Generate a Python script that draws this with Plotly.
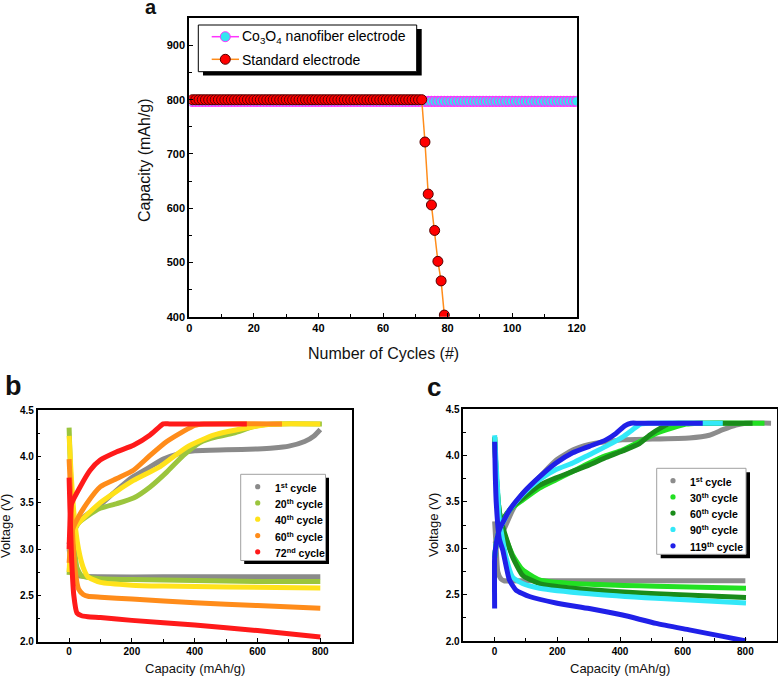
import plotly.graph_objects as go

W, H = 778, 677
FONT = "Arial, Liberation Sans, sans-serif"

# ---------------- Panel a data ----------------
a_names = ["Co<sub>3</sub>O<sub>4</sub> nanofiber electrode", "Standard electrode"]
cycles_co = list(range(1, 121))
capacity_co = [
    797, 797, 797, 797, 797, 797, 797, 797, 797, 797, 797, 797, 797, 797, 797, 797, 797, 797, 797, 797,
    797, 797, 797, 797, 797, 797, 797, 797, 797, 797, 797, 797, 797, 797, 797, 797, 797, 797, 797, 797,
    797, 797, 797, 797, 797, 797, 797, 797, 797, 797, 797, 797, 797, 797, 797, 797, 797, 797, 797, 797,
    797, 797, 797, 797, 797, 797, 797, 797, 797, 797, 797, 797, 797, 797, 797, 797, 797, 797, 797, 797,
    797, 797, 797, 797, 797, 797, 797, 797, 797, 797, 797, 797, 797, 797, 797, 797, 797, 797, 797, 797,
    797, 797, 797, 797, 797, 797, 797, 797, 797, 797, 797, 797, 797, 797, 797, 797, 797, 797, 797, 797,
]
cycles_std = list(range(1, 80))
capacity_std = [
    800, 800, 800, 800, 800, 800, 800, 800, 800, 800, 800, 800, 800, 800, 800, 800, 800, 800, 800, 800,
    800, 800, 800, 800, 800, 800, 800, 800, 800, 800, 800, 800, 800, 800, 800, 800, 800, 800, 800, 800,
    800, 800, 800, 800, 800, 800, 800, 800, 800, 800, 800, 800, 800, 800, 800, 800, 800, 800, 800, 800,
    800, 800, 800, 800, 800, 800, 800, 800, 800, 800, 800, 800,
    722, 626, 606, 559, 502, 466, 403,
]

# ---------------- Panel b data ----------------
b_labels = ["1<sup>st</sup> cycle", "20<sup>th</sup> cycle", "40<sup>th</sup> cycle",
            "60<sup>th</sup> cycle", "72<sup>nd</sup> cycle"]
b_colors = ["#8a8a8a", "#9bc53d", "#ffe21a", "#ff8c1a", "#ff1a1a"]
b_charge_x = [
    [0, 10, 30, 60, 100, 150, 200, 250, 300, 350, 400, 500, 600, 650, 700, 750, 780, 800],
    [0, 3, 10, 30, 60, 99, 152, 205, 258, 311, 364, 417, 470, 524, 587, 630, 660, 805],
    [0, 3, 10, 30, 60, 99, 150, 205, 290, 375, 460, 587, 640, 670, 800],
    [0, 5, 12, 24, 56, 99, 152, 205, 258, 311, 364, 400, 430, 678],
    [0, 3, 8, 35, 67, 99, 152, 205, 258, 285, 300, 320, 566],
]
b_charge_y = [
    [3.05, 3.22, 3.30, 3.38, 3.48, 3.63, 3.77, 3.87, 3.97, 4.03, 4.06, 4.07, 4.08, 4.09, 4.11, 4.16, 4.22, 4.29],
    [2.72, 2.90, 3.15, 3.28, 3.36, 3.44, 3.49, 3.55, 3.67, 3.83, 4.01, 4.15, 4.21, 4.25, 4.32, 4.345, 4.35, 4.35],
    [2.75, 2.95, 3.18, 3.28, 3.38, 3.50, 3.62, 3.74, 3.89, 4.10, 4.23, 4.32, 4.345, 4.35, 4.35],
    [2.85, 3.05, 3.22, 3.31, 3.49, 3.67, 3.76, 3.85, 4.01, 4.16, 4.27, 4.335, 4.35, 4.35],
    [3.00, 3.30, 3.49, 3.67, 3.85, 3.96, 4.05, 4.12, 4.23, 4.31, 4.35, 4.35, 4.35],
]
b_dis_x = [
    [0, 5, 15, 30, 100, 300, 500, 800],
    [0, 3, 8, 15, 25, 40, 100, 200, 400, 600, 800],
    [0, 5, 15, 30, 45, 60, 100, 200, 300, 500, 800],
    [0, 5, 12, 20, 30, 45, 60, 100, 200, 400, 600, 800],
    [0, 3, 8, 15, 25, 40, 60, 100, 200, 400, 600, 800],
]
b_dis_y = [
    [3.00, 2.88, 2.74, 2.71, 2.70, 2.70, 2.70, 2.70],
    [4.31, 4.00, 3.50, 3.10, 2.80, 2.71, 2.68, 2.67, 2.66, 2.65, 2.65],
    [4.22, 3.90, 3.40, 3.00, 2.80, 2.70, 2.64, 2.61, 2.60, 2.59, 2.58],
    [3.97, 3.60, 3.10, 2.75, 2.57, 2.51, 2.49, 2.48, 2.46, 2.42, 2.39, 2.36],
    [3.77, 3.40, 2.90, 2.50, 2.31, 2.28, 2.27, 2.26, 2.23, 2.18, 2.12, 2.05],
]

# ---------------- Panel c data ----------------
c_labels = ["1<sup>st</sup> cycle", "30<sup>th</sup> cycle", "60<sup>th</sup> cycle",
            "90<sup>th</sup> cycle", "119<sup>th</sup> cycle"]
c_colors = ["#8c8c8c", "#22e022", "#1a8c1a", "#33e8f8", "#2020e8"]
c_charge_x = [
    [0, 10, 26, 57, 89, 143, 196, 249, 302, 355, 408, 621, 685, 728, 770, 800, 882],
    [0, 5, 15, 30, 57, 89, 143, 196, 249, 302, 355, 408, 462, 515, 568, 610, 650, 861],
    [0, 5, 15, 30, 57, 89, 143, 196, 249, 302, 355, 408, 462, 494, 536, 560, 590, 823],
    [0, 5, 15, 30, 47, 89, 143, 196, 249, 302, 355, 408, 440, 465, 490, 728],
    [0, 0, 5, 15, 47, 89, 143, 196, 249, 302, 355, 387, 415, 435, 460, 664],
]
c_charge_y = [
    [3.05, 3.10, 3.18, 3.41, 3.59, 3.77, 3.95, 4.06, 4.12, 4.15, 4.17, 4.19, 4.22, 4.28, 4.33, 4.35, 4.35],
    [2.90, 3.05, 3.20, 3.33, 3.44, 3.52, 3.65, 3.74, 3.83, 3.92, 4.00, 4.06, 4.15, 4.24, 4.30, 4.34, 4.35, 4.35],
    [2.90, 3.05, 3.20, 3.33, 3.45, 3.54, 3.68, 3.76, 3.83, 3.90, 3.98, 4.05, 4.13, 4.22, 4.31, 4.345, 4.35, 4.35],
    [2.90, 3.05, 3.20, 3.30, 3.41, 3.58, 3.74, 3.85, 3.92, 4.01, 4.10, 4.20, 4.28, 4.34, 4.35, 4.35],
    [2.35, 2.90, 3.05, 3.20, 3.41, 3.59, 3.77, 3.92, 4.03, 4.10, 4.17, 4.24, 4.32, 4.35, 4.35, 4.35],
]
c_dis_x = [
    [0, 5, 10, 20, 30, 100, 400, 800],
    [0, 5, 15, 26, 57, 89, 143, 249, 515, 802],
    [0, 5, 15, 26, 57, 89, 143, 249, 515, 802],
    [0, 5, 10, 15, 36, 57, 89, 143, 302, 515, 802],
    [0, 2, 5, 15, 26, 47, 68, 111, 196, 302, 408, 515, 621, 728, 802],
]
c_dis_y = [
    [3.29, 3.00, 2.75, 2.67, 2.65, 2.65, 2.65, 2.65],
    [4.20, 3.80, 3.40, 3.20, 2.93, 2.77, 2.66, 2.62, 2.59, 2.57],
    [4.20, 3.80, 3.40, 3.23, 2.91, 2.71, 2.62, 2.57, 2.51, 2.47],
    [4.22, 3.90, 3.60, 3.31, 2.91, 2.69, 2.62, 2.57, 2.51, 2.46, 2.41],
    [4.15, 3.80, 3.50, 3.10, 2.98, 2.66, 2.55, 2.48, 2.41, 2.35, 2.28, 2.19, 2.12, 2.05, 2.00],
]


# ---------------- helpers (pixel -> paper) ----------------
def px(x):
    return x / W


def py(y):
    return 1 - y / H


fig = go.Figure()

# Panel a traces
co_style = dict(line=dict(color="#ff33ff", width=1.5),
                marker=dict(size=10, color="#33e6f0", line=dict(color="#ff33ff", width=1.2)))
std_style = dict(line=dict(color="#ff8c1a", width=1.5),
                 marker=dict(size=10, color="#ff0000", line=dict(color="#550000", width=1)))
fig.add_trace(go.Scatter(x=cycles_co, y=capacity_co, mode="lines+markers", name=a_names[0],
                         xaxis="x", yaxis="y", **co_style))
fig.add_trace(go.Scatter(x=cycles_std, y=capacity_std, mode="lines+markers", name=a_names[1],
                         xaxis="x", yaxis="y", **std_style))


def add_cycle_panel(colors, cx, cy, dx, dy, xa, ya):
    for i in range(len(colors)):
        xs = list(dx[i]) + [None] + list(cx[i])
        ys = list(dy[i]) + [None] + list(cy[i])
        fig.add_trace(go.Scatter(
            x=xs, y=ys, mode="lines", showlegend=False,
            line=dict(color=colors[i], width=5, shape="spline", smoothing=0.5),
            xaxis=xa, yaxis=ya, hoverinfo="skip",
        ))


add_cycle_panel(b_colors, b_charge_x, b_charge_y, b_dis_x, b_dis_y, "x2", "y2")
add_cycle_panel(c_colors, c_charge_x, c_charge_y, c_dis_x, c_dis_y, "x3", "y3")

axis_common = dict(
    showline=True, linecolor="black", mirror=True, showgrid=False, zeroline=False,
    ticks="inside", tickcolor="black", ticklen=4, tickwidth=1.2,
)
tf_a = dict(family=FONT, size=11, color="black", weight="bold")
tf_bc = dict(family=FONT, size=10, color="black", weight="bold")
minor_style = dict(ticks="inside", ticklen=3, tickcolor="black")

fig.update_layout(
    width=W, height=H,
    margin=dict(l=0, r=0, t=0, b=0, autoexpand=False),
    paper_bgcolor="white", plot_bgcolor="white",
    showlegend=False,
    xaxis=dict(domain=[px(189.3), px(576.7)], range=[0, 120], anchor="y",
               tickvals=[0, 20, 40, 60, 80, 100, 120],
               minor=dict(tickvals=[10, 30, 50, 70, 90, 110], **minor_style),
               linewidth=2, tickfont=tf_a, **axis_common),
    yaxis=dict(domain=[py(316.7), py(18.3)], range=[400, 950], anchor="x",
               tickvals=[400, 500, 600, 700, 800, 900],
               minor=dict(tickvals=[450, 550, 650, 750, 850], **minor_style),
               linewidth=2, tickfont=tf_a, **axis_common),
    xaxis2=dict(domain=[px(37.7), px(351.7)], range=[-100, 900], anchor="y2",
                tickvals=[0, 200, 400, 600, 800],
                minor=dict(tickvals=[100, 300, 500, 700], **minor_style),
                linewidth=1.5, tickfont=tf_bc, **axis_common),
    yaxis2=dict(domain=[py(641.7), py(410)], range=[2.0, 4.5], anchor="x2",
                tickvals=[2.0, 2.5, 3.0, 3.5, 4.0, 4.5], tickformat=".1f",
                minor=dict(tickvals=[2.25, 2.75, 3.25, 3.75, 4.25], **minor_style),
                linewidth=1.5, tickfont=tf_bc, **axis_common),
    xaxis3=dict(domain=[px(463.3), px(776.7)], range=[-100, 900], anchor="y3",
                tickvals=[0, 200, 400, 600, 800],
                minor=dict(tickvals=[100, 300, 500, 700], **minor_style),
                linewidth=1.5, tickfont=tf_bc, **axis_common),
    yaxis3=dict(domain=[py(641), py(409.3)], range=[2.0, 4.5], anchor="x3",
                tickvals=[2.0, 2.5, 3.0, 3.5, 4.0, 4.5], tickformat=".1f",
                minor=dict(tickvals=[2.25, 2.75, 3.25, 3.75, 4.25], **minor_style),
                linewidth=1.5, tickfont=tf_bc, **axis_common),
)


def rect(x0, y0, x1, y1, fill, line):
    fig.add_shape(type="rect", xref="paper", yref="paper",
                  x0=px(x0), x1=px(x1), y0=py(y0), y1=py(y1),
                  fillcolor=fill, line=line, layer="above")


def dot(cx, cy, r, fill, line):
    fig.add_shape(type="circle", xref="paper", yref="paper",
                  x0=px(cx - r), x1=px(cx + r), y0=py(cy - r), y1=py(cy + r),
                  fillcolor=fill, line=line, layer="above")


def label(text, x, y, size, bold):
    font = dict(family=FONT, size=size, color="black")
    if bold:
        font["weight"] = "bold"
    fig.add_annotation(text=text, x=px(x), y=py(y), xref="paper", yref="paper",
                       showarrow=False, xanchor="left", yanchor="middle", font=font)


# Panel a key (box with drop shadow, line+marker symbols)
rect(203, 29, 421.7, 75.5, "black", dict(width=0))
rect(198.3, 25, 416.7, 71.7, "white", dict(color="black", width=1))
for yy, name, st in zip([36.7, 59.3], a_names, [co_style, std_style]):
    fig.add_shape(type="line", xref="paper", yref="paper",
                  x0=px(211.7), x1=px(239), y0=py(yy), y1=py(yy),
                  line=dict(color=st["line"]["color"], width=1.5), layer="above")
    dot(225.3, yy, 5, st["marker"]["color"],
        dict(color=st["marker"]["line"]["color"], width=1))
    label(name, 240, yy + 0.5, 14, False)


# Panels b and c keys
def add_key(box, shadow, dot_x, text_x, item_ys, labels, colors):
    x0, y0, x1, y1 = box
    rect(x0 + shadow, y0 + shadow, x1 + shadow, y1 + shadow, "black", dict(width=0))
    rect(x0, y0, x1, y1, "white", dict(color="#a0a0a0", width=1))
    for yy, lab, col in zip(item_ys, labels, colors):
        dot(dot_x, yy, 2.6, col, dict(width=0))
        label(lab, text_x, yy + 0.5, 10.5, True)


add_key((240.7, 474.3, 325.5, 560.5), 3.5, 257.7, 273,
        [486.7, 502.9, 519.2, 535.6, 551.8], b_labels, b_colors)
add_key((656.7, 468.3, 746.0, 554.3), 4.0, 673.0, 688,
        [480.7, 496.9, 513.1, 529.4, 545.8], c_labels, c_colors)

# Text annotations: panel letters and axis titles
ann = [
    dict(text="<b>a</b>", x=px(151), y=py(7), size=20),
    dict(text="<b>b</b>", x=px(13.5), y=py(386), size=27),
    dict(text="<b>c</b>", x=px(433.5), y=py(387), size=26),
    dict(text="Number of Cycles (#)", x=px(383), y=py(353), size=16),
    dict(text="Capacity (mAh/g)", x=px(144), y=py(160), size=16, textangle=-90),
    dict(text="Capacity (mAh/g)", x=px(195), y=py(668), size=13),
    dict(text="Voltage (V)", x=px(5), y=py(526), size=13, textangle=-90),
    dict(text="Capacity (mAh/g)", x=px(620), y=py(668), size=13),
    dict(text="Voltage (V)", x=px(433), y=py(525), size=13, textangle=-90),
]
for a in ann:
    fig.add_annotation(text=a["text"], x=a["x"], y=a["y"], xref="paper", yref="paper",
                       showarrow=False, xanchor="center", yanchor="middle",
                       textangle=a.get("textangle", 0),
                       font=dict(family=FONT, size=a["size"], color="#111111"))

fig.write_html(
    "out.html",
    config={"displayModeBar": False},
    post_script="document.body.style.margin='0';document.body.style.overflow='hidden';",
)
